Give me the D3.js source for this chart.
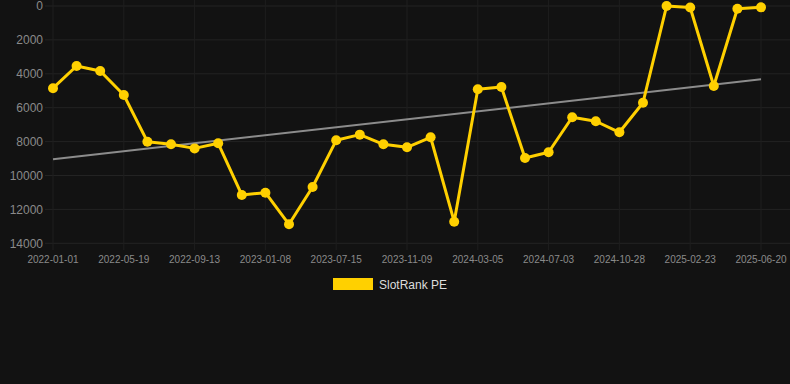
<!DOCTYPE html>
<html>
<head>
<meta charset="utf-8">
<script src="https://cdn.jsdelivr.net/npm/d3@7"></script>
<style>
  html, body { margin: 0; padding: 0; background: #121212; }
  #chart { width: 790px; height: 384px; }
</style>
</head>
<body>
<div id="chart"></div>
<script>
// dates on the category axis (every third one is labelled)
const dates = [
  '2022-01-01', '2022-02-16', '2022-04-03', '2022-05-19', '2022-06-27', '2022-08-05',
  '2022-09-13', '2022-10-22', '2022-11-30', '2023-01-08', '2023-03-09', '2023-05-12',
  '2023-07-15', '2023-08-23', '2023-10-01', '2023-11-09', '2023-12-18', '2024-01-26',
  '2024-03-05', '2024-04-13', '2024-05-25', '2024-07-03', '2024-08-11', '2024-09-19',
  '2024-10-28', '2024-12-06', '2025-01-14', '2025-02-23', '2025-04-04', '2025-05-12',
  '2025-06-20'
];
// SlotRank PE values
const rankValues = [
  4850, 3540, 3835, 5250, 8005, 8160, 8400, 8100, 11150, 11015, 12880, 10680,
  7925, 7590, 8160, 8335, 7745, 12725, 4915, 4780, 8970, 8630, 6565, 6800,
  7450, 5705, 0, 90, 4720, 160, 80
];
const yTicks = [0, 2000, 4000, 6000, 8000, 10000, 12000, 14000];
const seriesName = 'SlotRank PE';

const width = 790, height = 384;
const font = '"Liberation Sans", Arial, Helvetica, sans-serif';

const svg = d3.select('#chart').append('svg')
  .attr('width', width)
  .attr('height', height)
  .style('font-family', font);

svg.append('rect').attr('width', width).attr('height', height).attr('fill', '#121212');

// scales
const x = d3.scalePoint().domain(dates).range([53, 761]);
const y = d3.scaleLinear().domain([0, 14000]).range([6, 243.3]);

// horizontal grid
svg.append('g').selectAll('line')
  .data(yTicks)
  .join('line')
  .attr('x1', 45).attr('x2', width)
  .attr('y1', d => y(d)).attr('y2', d => y(d))
  .attr('stroke', '#232323').attr('stroke-width', 1);

// vertical grid at labelled dates
const labelled = dates.filter((_, i) => i % 3 === 0);
svg.append('g').selectAll('line')
  .data(labelled)
  .join('line')
  .attr('x1', d => x(d)).attr('x2', d => x(d))
  .attr('y1', 0).attr('y2', 250)
  .attr('stroke', '#1e1e1e').attr('stroke-width', 1);

// y labels
svg.append('g').selectAll('text')
  .data(yTicks)
  .join('text')
  .attr('x', 43)
  .attr('y', d => y(d))
  .attr('dy', '0.36em')
  .attr('text-anchor', 'end')
  .attr('font-size', 12)
  .attr('fill', '#8a8a8a')
  .text(d => d);

// x labels
svg.append('g').selectAll('text')
  .data(labelled)
  .join('text')
  .attr('x', d => x(d))
  .attr('y', 263)
  .attr('text-anchor', 'middle')
  .attr('font-size', 10)
  .attr('fill', '#8a8a8a')
  .text(d => d);

// linear trend (least squares on index)
const n = rankValues.length;
const meanI = d3.mean(rankValues, (_, i) => i);
const meanV = d3.mean(rankValues);
const slope = d3.sum(rankValues, (v, i) => (i - meanI) * (v - meanV)) /
  d3.sum(rankValues, (_, i) => (i - meanI) * (i - meanI));
const trend = [0, n - 1].map(i => [dates[i], meanV + slope * (i - meanI)]);
svg.append('path')
  .datum(trend)
  .attr('d', d3.line().x(d => x(d[0])).y(d => y(d[1])))
  .attr('stroke', '#8c8c8c')
  .attr('stroke-width', 2)
  .attr('fill', 'none');

// series line
const series = dates.map((d, i) => [d, rankValues[i]]);
svg.append('path')
  .datum(series)
  .attr('d', d3.line().x(d => x(d[0])).y(d => y(d[1])))
  .attr('stroke', '#ffd000')
  .attr('stroke-width', 3)
  .attr('stroke-linejoin', 'round')
  .attr('fill', 'none');

svg.append('g').selectAll('circle')
  .data(series)
  .join('circle')
  .attr('cx', d => x(d[0]))
  .attr('cy', d => y(d[1]))
  .attr('r', 5)
  .attr('fill', '#ffd000');

// legend
const legend = svg.append('g');
legend.append('rect')
  .attr('x', 333).attr('y', 278)
  .attr('width', 40).attr('height', 12)
  .attr('fill', '#ffd000');
legend.append('text')
  .attr('x', 379).attr('y', 288.5)
  .attr('font-size', 12)
  .attr('fill', '#dddddd')
  .text(seriesName);
</script>
</body>
</html>
